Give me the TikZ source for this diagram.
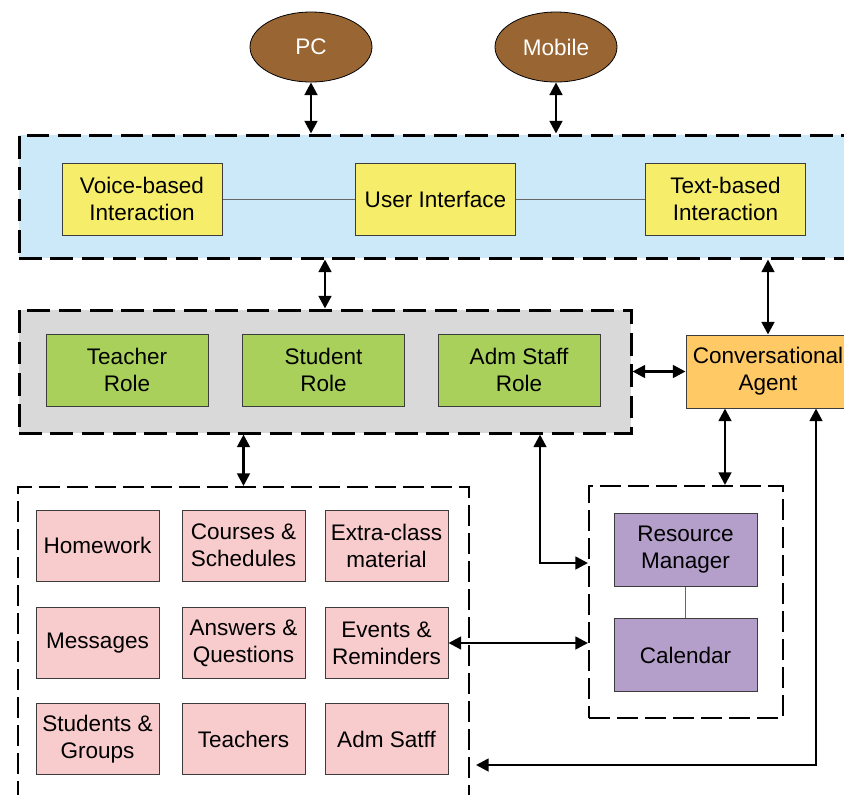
\documentclass[tikz,border=0pt]{standalone}
\usepackage{fontspec}
\setmainfont{Liberation Sans}
\usetikzlibrary{arrows.meta,shapes.geometric}

\definecolor{devbrown}{RGB}{153,102,51}
\definecolor{uiblue}{RGB}{204,233,250}
\definecolor{uiyellow}{RGB}{246,238,107}
\definecolor{rolegreen}{RGB}{168,208,90}
\definecolor{rolegray}{RGB}{217,217,217}
\definecolor{agentorange}{RGB}{255,201,102}
\definecolor{datapink}{RGB}{248,203,205}
\definecolor{respurple}{RGB}{180,158,202}
\definecolor{edge}{RGB}{60,60,60}

\tikzset{
  txt/.style={font=\fontsize{16.9}{20.3}\selectfont, align=center, inner sep=0pt},
  device/.style={txt, ellipse, draw=black, line width=0.6pt, fill=devbrown, text=white,
    minimum width=91.5pt, minimum height=52.5pt},
  box/.style={txt, rectangle, draw=edge, line width=0.75pt},
  uibox/.style={box, fill=uiyellow, minimum width=120pt, minimum height=54pt},
  rolebox/.style={box, fill=rolegreen, minimum width=121.5pt, minimum height=54pt},
  databox/.style={box, fill=datapink, minimum width=92.25pt, minimum height=53.25pt},
  resbox/.style={box, fill=respurple, minimum width=107.25pt, minimum height=54.75pt},
  agentbox/.style={box, fill=agentorange, minimum width=123pt, minimum height=54.75pt},
  heavygroup/.style={rectangle, draw=black, line width=2.25pt, dash pattern=on 17pt off 6.5pt, inner sep=0pt},
  lightgroup/.style={rectangle, draw=black, line width=1.5pt, dash pattern=on 16pt off 5pt, inner sep=0pt},
  biarrow/.style={line width=2pt, {Triangle[length=9.5pt,width=9.5pt]}-{Triangle[length=9.5pt,width=9.5pt]}},
  link/.style={draw=gray!80!black, line width=0.75pt}
}

\begin{document}
\begin{tikzpicture}[x=0.75pt,y=-0.75pt]
  \useasboundingbox (0,0) rectangle (844,794);

  % group containers
  \node[heavygroup, fill=uiblue, minimum width=623.25pt, minimum height=92.25pt] (ui) at (434.5,196.5) {};
  \node[heavygroup, fill=rolegray, minimum width=459pt, minimum height=92.25pt] (roles) at (325,371.5) {};
  \node[lightgroup, fill=white, minimum width=338.25pt, minimum height=237pt] (data) at (243.5,645) {};
  \node[lightgroup, fill=white, minimum width=145.5pt, minimum height=174pt] (rc) at (686,602) {};

  % access devices
  \node[device] (pc) at (311,47) {PC};
  \node[device] (mobile) at (556,47) {Mobile};

  % user interface layer
  \node[uibox] (voice) at (142,199) {Voice-based\\Interaction};
  \node[uibox] (uif) at (435.5,199) {User Interface};
  \node[uibox] (textb) at (725.5,199) {Text-based\\Interaction};
  \draw[link] (voice) -- (uif);
  \draw[link] (uif) -- (textb);

  % roles
  \node[rolebox] (teacher) at (127,370) {Teacher\\Role};
  \node[rolebox] (student) at (323.5,370) {Student\\Role};
  \node[rolebox] (staff) at (519,370) {Adm Staff\\Role};

  % agent
  \node[agentbox] (conv) at (768,371.5) {Conversational\\Agent};

  % data entities
  \node[databox] (hw) at (97.5,545.5) {Homework};
  \node[databox] (courses) at (243.5,545.5) {Courses \&\\Schedules};
  \node[databox] (extra) at (386.5,545.5) {Extra-class\\material};
  \node[databox] (msg) at (97.5,643) {Messages};
  \node[databox] (answers) at (243.5,643) {Answers \&\\Questions};
  \node[databox] (events) at (386.5,643) {Events \&\\Reminders};
  \node[databox] (groups) at (97.5,739) {Students \&\\Groups};
  \node[databox] (teachers) at (243.5,739) {Teachers};
  \node[databox] (admsatff) at (386.5,739) {Adm Satff};

  % resources
  \node[resbox] (resman) at (685.5,549.5) {Resource\\Manager};
  \node[resbox] (cal) at (685.5,655) {Calendar};
  \draw[link] (resman) -- (cal);

  % routing points
  \coordinate (rolesdrop) at (540,563);
  \coordinate (convdrop) at (725,0);
  \coordinate (convreturn) at (816,765);

  % connectors
  \draw[biarrow] (pc) -- (pc |- ui.north);
  \draw[biarrow] (mobile) -- (mobile |- ui.north);
  \draw[biarrow] (ui.south -| roles.north) -- (roles.north);
  \draw[biarrow] (ui.south -| conv.north) -- (conv.north);
  \draw[biarrow] (roles.east |- conv.west) -- (conv.west);
  \draw[biarrow] (roles.south -| data.north) -- (data.north);
  \draw[biarrow] (roles.south -| rolesdrop) |- (rc.west |- rolesdrop);
  \draw[biarrow] (conv.south -| convdrop) -- (rc.north -| convdrop);
  \draw[biarrow] (events.east) -- (events.east -| rc.west);
  \draw[biarrow] (conv.south -| convreturn) |- ([xshift=4.5pt]data.east |- convreturn);
\end{tikzpicture}
\end{document}
